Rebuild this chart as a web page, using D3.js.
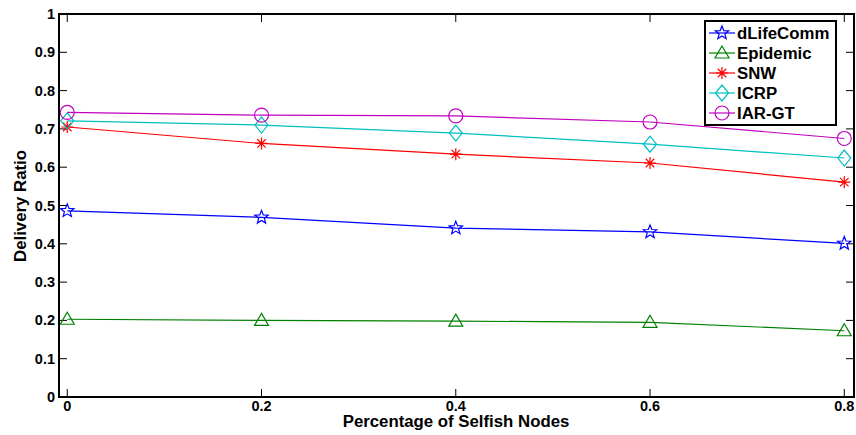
<!DOCTYPE html>
<html>
<head>
<meta charset="utf-8">
<script src="https://cdn.jsdelivr.net/npm/d3@7"></script>
<style>
  body { margin: 0; background: #fff; }
  text { font-family: "Liberation Sans", Arial, sans-serif; font-weight: bold; }
</style>
</head>
<body>
<svg id="chart" width="856" height="435"></svg>
<script>
// data
const xValues = [0, 0.2, 0.4, 0.6, 0.8];
const dLifeComm = [0.486, 0.469, 0.441, 0.431, 0.401];
const epidemic = [0.203, 0.200, 0.198, 0.195, 0.173];
const snw = [0.705, 0.662, 0.634, 0.611, 0.561];
const icrp = [0.721, 0.710, 0.689, 0.660, 0.624];
const iarGt = [0.743, 0.736, 0.734, 0.718, 0.675];
const xTicks = [0, 0.2, 0.4, 0.6, 0.8];
const yTicks = [0, 0.1, 0.2, 0.3, 0.4, 0.5, 0.6, 0.7, 0.8, 0.9, 1];

const series = [
  { name: "dLifeComm", values: dLifeComm, color: "#0000ff", marker: "star" },
  { name: "Epidemic", values: epidemic, color: "#008000", marker: "triangle" },
  { name: "SNW", values: snw, color: "#ff0000", marker: "asterisk" },
  { name: "ICRP", values: icrp, color: "#00bfbf", marker: "diamond" },
  { name: "IAR-GT", values: iarGt, color: "#bf00bf", marker: "circle" }
];

const svg = d3.select("#chart");
const plotL = 59, plotR = 854, plotT = 14, plotB = 397;
const fs = 16.8, tickFs = 14.5;

const x = d3.scaleLinear().domain([-0.0085, 0.81]).range([plotL, plotR]);
const y = d3.scaleLinear().domain([0, 1]).range([plotB, plotT]);

// marker paths centred on 0,0
function markerPath(type) {
  if (type === "star") {
    const pts = [];
    for (let i = 0; i < 10; i++) {
      const r = i % 2 === 0 ? 7 : 3;
      const a = -Math.PI / 2 + i * Math.PI / 5;
      pts.push([r * Math.cos(a), r * Math.sin(a)]);
    }
    return "M" + pts.map(p => p.join(",")).join("L") + "Z";
  }
  if (type === "triangle") return "M0,-7L7,5L-7,5Z";
  if (type === "diamond") return "M0,-8L6.5,0L0,8L-6.5,0Z";
  if (type === "circle") return "M-7,0A7,7 0 1,0 7,0A7,7 0 1,0 -7,0Z";
  if (type === "asterisk") {
    const r = 6;
    const d = r * Math.cos(Math.PI / 4);
    return `M0,${-r}L0,${r}M${-r},0L${r},0M${-d},${-d}L${d},${d}M${-d},${d}L${d},${-d}`;
  }
}

// ticks (inside, on all four sides)
const tickLen = 8;
const ticks = svg.append("g").attr("stroke", "#000").attr("stroke-width", 1);
xTicks.forEach(t => {
  ticks.append("line").attr("x1", x(t)).attr("x2", x(t)).attr("y1", plotB).attr("y2", plotB - tickLen);
  ticks.append("line").attr("x1", x(t)).attr("x2", x(t)).attr("y1", plotT).attr("y2", plotT + tickLen);
});
yTicks.forEach(t => {
  ticks.append("line").attr("x1", plotL).attr("x2", plotL + tickLen).attr("y1", y(t)).attr("y2", y(t));
  ticks.append("line").attr("x1", plotR).attr("x2", plotR - tickLen).attr("y1", y(t)).attr("y2", y(t));
});

// tick labels
svg.append("g").selectAll("text").data(xTicks).join("text")
  .attr("x", d => x(d)).attr("y", 411)
  .attr("text-anchor", "middle").attr("font-size", tickFs)
  .text(d => d3.format("~g")(d));
svg.append("g").selectAll("text").data(yTicks).join("text")
  .attr("x", 55).attr("y", d => y(d) + 5)
  .attr("text-anchor", "end").attr("font-size", tickFs)
  .text(d => d3.format("~g")(d));

// lines + markers
const line = d3.line().x((d, i) => x(xValues[i])).y(d => y(d));
series.forEach(s => {
  svg.append("path").datum(s.values)
    .attr("d", line).attr("fill", "none")
    .attr("stroke", s.color).attr("stroke-width", 1.2);
  svg.append("g").selectAll("path").data(s.values).join("path")
    .attr("transform", (d, i) => `translate(${x(xValues[i])},${y(d)})`)
    .attr("d", markerPath(s.marker))
    .attr("fill", "none").attr("stroke", s.color).attr("stroke-width", 1.2);
});

// axes box
svg.append("rect")
  .attr("x", plotL).attr("y", plotT)
  .attr("width", plotR - plotL).attr("height", plotB - plotT)
  .attr("fill", "none").attr("stroke", "#000").attr("stroke-width", 2);

// axis titles
svg.append("text").attr("x", 456).attr("y", 427)
  .attr("text-anchor", "middle").attr("font-size", fs)
  .text("Percentage of Selfish Nodes");
svg.append("text")
  .attr("transform", `translate(26,206) rotate(-90)`)
  .attr("text-anchor", "middle").attr("font-size", fs)
  .text("Delivery Ratio");

// legend
const legend = svg.append("g");
legend.append("rect")
  .attr("x", 705).attr("y", 21).attr("width", 131).attr("height", 104)
  .attr("fill", "#fff").attr("stroke", "#000").attr("stroke-width", 2);
series.forEach((s, i) => {
  const ly = 33 + i * 20;
  legend.append("line").attr("x1", 709).attr("x2", 735).attr("y1", ly).attr("y2", ly)
    .attr("stroke", s.color).attr("stroke-width", 1.2);
  legend.append("path").attr("transform", `translate(722,${ly})`)
    .attr("d", markerPath(s.marker))
    .attr("fill", "none").attr("stroke", s.color).attr("stroke-width", 1.2);
  legend.append("text").attr("x", 737).attr("y", ly + 6)
    .attr("font-size", fs).text(s.name);
});
</script>
</body>
</html>
